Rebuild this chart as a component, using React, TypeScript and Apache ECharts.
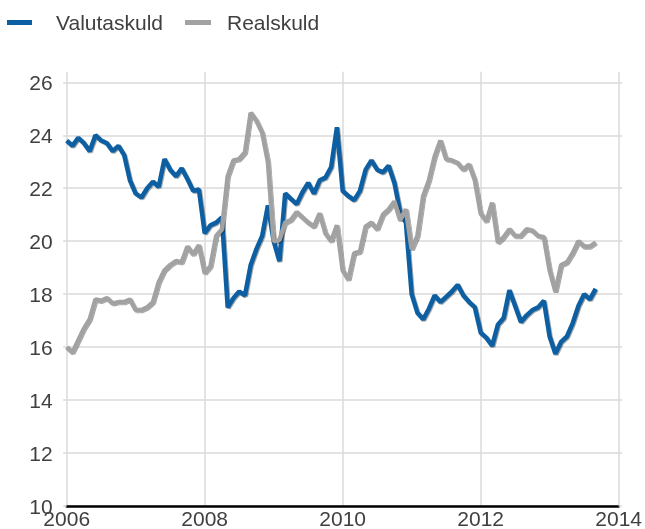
import React, { useEffect, useRef } from "react";
import * as echarts from "echarts";

const START_YEAR = 2006;
const SERIES_NAMES = ["Valutaskuld", "Realskuld"];
const X_TICKS = [2006, 2008, 2010, 2012, 2014];
const Y_TICKS = [10, 12, 14, 16, 18, 20, 22, 24, 26];

// Monthly values, January 2006 .. September 2013
const valutaskuld = [
  23.8, 23.6, 23.9, 23.7, 23.4, 24.0, 23.8, 23.7, 23.4, 23.6,
  23.25, 22.3, 21.8, 21.65, 22.0, 22.25, 22.05, 23.1, 22.7, 22.45,
  22.75, 22.35, 21.9, 21.95, 20.3, 20.6, 20.7, 20.9, 17.5, 17.85,
  18.1, 17.95, 19.1, 19.7, 20.2, 21.35, 20.0, 19.25, 21.8, 21.6,
  21.4, 21.85, 22.2, 21.8, 22.3, 22.4, 22.8, 24.3, 21.9, 21.7,
  21.55, 21.9, 22.7, 23.05, 22.7, 22.6, 22.85, 22.2, 21.1, 20.7,
  18.0, 17.3, 17.05, 17.45, 17.95, 17.7, 17.9, 18.1, 18.35, 17.95,
  17.7, 17.5, 16.55, 16.35, 16.05, 16.85, 17.1, 18.15, 17.55, 16.95,
  17.2, 17.4, 17.5, 17.75, 16.4, 15.75, 16.2, 16.4, 16.9, 17.55,
  18.0, 17.8, 18.2,
];

const realskuld = [
  16.0, 15.8, 16.25, 16.7, 17.05, 17.8, 17.75, 17.85, 17.65, 17.7,
  17.7, 17.8, 17.4, 17.4, 17.5, 17.7, 18.45, 18.9, 19.1, 19.25,
  19.2, 19.8, 19.5, 19.85, 18.8, 19.05, 20.2, 20.45, 22.45, 23.05,
  23.1, 23.35, 24.85, 24.55, 24.1, 23.0, 20.0, 20.05, 20.7, 20.8,
  21.1, 20.9, 20.7, 20.55, 21.05, 20.3, 20.0, 20.6, 18.9, 18.55,
  19.55, 19.6, 20.55, 20.7, 20.45, 21.0, 21.2, 21.5, 20.8, 21.2,
  19.7, 20.2, 21.7, 22.3, 23.2, 23.8, 23.1, 23.05, 22.95, 22.7,
  22.9, 22.3, 21.05, 20.75, 21.45, 19.95, 20.15, 20.45, 20.2, 20.2,
  20.45, 20.4, 20.2, 20.15, 18.9, 18.1, 19.1, 19.2, 19.55, 20.0,
  19.8, 19.8, 19.95,
];

const COLORS = ["#0b5fa2", "#a2a2a2"];
const FONT = "'Liberation Sans', Arial, sans-serif";
const GRID_COLOR = "#dadada";
const TEXT_COLOR = "#404040";

const toPoints = (vals: number[]) => vals.map((v, i) => [START_YEAR + i / 12, v]);

export default function App() {
  const ref = useRef<HTMLDivElement>(null);
  useEffect(() => {
    if (!ref.current) return;
    const chart = echarts.init(ref.current, null, { renderer: "svg" });
    const xMin = X_TICKS[0];
    const xMax = X_TICKS[X_TICKS.length - 1];
    const yMin = Y_TICKS[0];
    const yMax = Y_TICKS[Y_TICKS.length - 1];
    const lineSeries = (name: string, vals: number[], color: string) => ({
      name,
      type: "line",
      data: toPoints(vals),
      showSymbol: false,
      symbol: "none",
      lineStyle: {
        color,
        width: 4.5,
        shadowColor: "rgba(0,0,0,0.45)",
        shadowBlur: 1,
        shadowOffsetX: 0.8,
        shadowOffsetY: 0.8,
      },
      itemStyle: { color },
      z: 3,
    });
    chart.setOption({
      animation: false,
      textStyle: { fontFamily: FONT },
      legend: [
        {
          data: [SERIES_NAMES[0]],
          left: 7,
          top: 12,
          padding: 0,
          icon: "rect",
          itemWidth: 25,
          itemHeight: 5,
          selectedMode: false,
          textStyle: { fontSize: 21, color: TEXT_COLOR, fontFamily: FONT, padding: [0, 0, 0, 19] },
        },
        {
          data: [SERIES_NAMES[1]],
          left: 185,
          top: 12,
          padding: 0,
          icon: "rect",
          itemWidth: 26,
          itemHeight: 5,
          selectedMode: false,
          textStyle: { fontSize: 21, color: TEXT_COLOR, fontFamily: FONT, padding: [0, 0, 0, 11] },
        },
      ],
      grid: { left: 66.7, right: 23.3, top: 82.3, bottom: 23, containLabel: false },
      xAxis: [
        {
          type: "value",
          min: xMin,
          max: xMax,
          interval: 2,
          position: "bottom",
          axisLine: { show: true, onZero: false, lineStyle: { color: "#000", width: 2.5 } },
          axisTick: { show: false },
          axisLabel: { fontSize: 21, color: TEXT_COLOR, margin: 2, fontFamily: FONT, formatter: (v: number) => String(v) },
          splitLine: { show: true, lineStyle: { color: GRID_COLOR, width: 1.5 } },
        },
        {
          type: "value",
          min: xMin,
          max: xMax,
          interval: 2,
          position: "top",
          axisLine: { show: false },
          axisTick: { show: true, inside: false, length: 10.5, lineStyle: { color: GRID_COLOR, width: 1.5 } },
          axisLabel: { show: false },
          splitLine: { show: false },
        },
      ],
      yAxis: [
        {
          type: "value",
          min: yMin,
          max: yMax,
          interval: 2,
          position: "left",
          axisLine: { show: false },
          axisTick: { show: true, length: 3.5, lineStyle: { color: GRID_COLOR, width: 1.5 } },
          axisLabel: { fontSize: 21, color: TEXT_COLOR, margin: 14, fontFamily: FONT },
          splitLine: { show: true, lineStyle: { color: GRID_COLOR, width: 1.5 } },
        },
        {
          type: "value",
          min: yMin,
          max: yMax,
          interval: 2,
          position: "right",
          axisLine: { show: false },
          axisTick: { show: true, length: 3.5, lineStyle: { color: GRID_COLOR, width: 1.5 } },
          axisLabel: { show: false },
          splitLine: { show: false },
        },
      ],
      series: [
        lineSeries(SERIES_NAMES[0], valutaskuld, COLORS[0]),
        lineSeries(SERIES_NAMES[1], realskuld, COLORS[1]),
      ],
    });
    return () => chart.dispose();
  }, []);
  return <div ref={ref} style={{ width: 645, height: 529, position: "fixed", left: 0, top: 0 }} />;
}
